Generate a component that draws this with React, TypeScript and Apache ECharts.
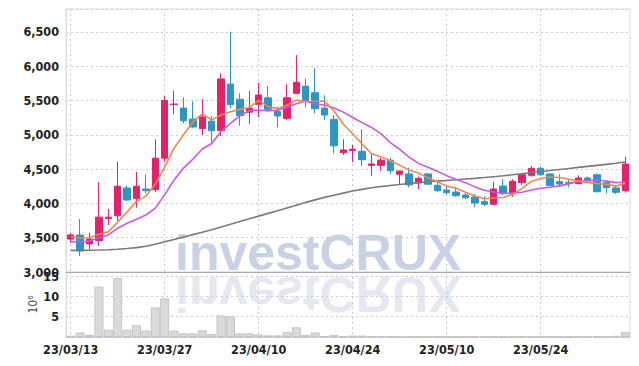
import React, { useEffect, useRef } from 'react';
import * as echarts from 'echarts';

const dates = [
  '23/03/13','23/03/14','23/03/15','23/03/16','23/03/17','23/03/20','23/03/21','23/03/22','23/03/23','23/03/24',
  '23/03/27','23/03/28','23/03/29','23/03/30','23/03/31','23/04/03','23/04/04','23/04/05','23/04/06','23/04/07',
  '23/04/10','23/04/11','23/04/12','23/04/13','23/04/14','23/04/17','23/04/18','23/04/19','23/04/20','23/04/21',
  '23/04/24','23/04/25','23/04/26','23/04/27','23/04/28','23/05/02','23/05/03','23/05/04','23/05/08','23/05/09',
  '23/05/10','23/05/11','23/05/12','23/05/15','23/05/16','23/05/17','23/05/18','23/05/19','23/05/22','23/05/23',
  '23/05/24','23/05/25','23/05/26','23/05/30','23/05/31','23/06/01','23/06/02','23/06/05','23/06/07','23/06/08',
];

const opens = [
  3480, 3539, 3410, 3456, 3780, 3820, 4225, 4070, 4210, 4200,
  4660, 5440, 5390, 5230, 5090, 5200, 5060, 5740, 5520, 5330,
  5445, 5540, 5340, 5240, 5605, 5710, 5615, 5390, 5225, 4740,
  4770, 4760, 4555, 4555, 4630, 4425, 4430, 4298, 4430, 4265,
  4196, 4166, 4123, 4094, 4025, 3987, 4254, 4142, 4303, 4410,
  4512, 4430, 4317, 4308, 4288, 4371, 4419, 4308, 4225, 4185,
];
const closes = [
  3540, 3306, 3480, 3800, 3800, 4250, 4050, 4250, 4185, 4660,
  5500, 5450, 5205, 5115, 5260, 5060, 5815, 5440, 5280, 5390,
  5580, 5372, 5275, 5540, 5765, 5485, 5380, 5290, 4840, 4780,
  4790, 4637, 4575, 4630, 4477, 4473, 4270, 4366, 4280, 4185,
  4157, 4112, 4083, 4006, 3987, 4210, 4142, 4322, 4419, 4512,
  4419, 4258, 4283, 4293, 4371, 4327, 4171, 4230, 4162, 4575,
];
const lows = [
  3427, 3233, 3331, 3379, 3685, 3744, 4035, 3938, 4148, 4167,
  4600, 5300, 5168, 5095, 4997, 4891, 4983, 5387, 5133, 5158,
  5256, 5337, 5110, 5216, 5605, 5400, 5314, 5216, 4729, 4706,
  4600, 4545, 4400, 4477, 4430, 4268, 4235, 4205, 4270, 4170,
  4123, 4098, 4064, 3943, 3962, 3977, 4123, 4098, 4268, 4390,
  4400, 4258, 4244, 4235, 4278, 4317, 4162, 4147, 4137, 4157,
];
const highs = [
  3573, 3773, 3573, 4308, 3918, 4608, 4258, 4458, 4425, 4935,
  5566, 5643, 5547, 5489, 5518, 5275, 5897, 6504, 5606, 5643,
  5760, 5712, 5410, 5737, 6164, 5820, 5970, 5576, 5290, 4935,
  4852, 5080, 4720, 4662, 4667, 4473, 4521, 4390, 4440, 4317,
  4254, 4244, 4171, 4140, 4108, 4317, 4351, 4351, 4439, 4545,
  4536, 4440, 4425, 4350, 4410, 4390, 4439, 4308, 4254, 4681,
];

// volume in millions (10^6)
const volumes = [
  0.3, 1.1, 0.5, 12.4, 1.8, 14.5, 1.8, 2.9, 1.6, 7.3,
  9.5, 1.6, 0.9, 0.9, 1.65, 0.7, 5.3, 5.1, 0.9, 0.9,
  0.6, 0.4, 0.4, 1.2, 2.4, 0.5, 1.1, 0.2, 0.5, 0.2,
  0.35, 0.35, 0.2, 0.15, 0.1, 0.15, 0.1, 0.1, 0.1, 0.1,
  0.1, 0.1, 0.1, 0.15, 0.1, 0.2, 0.1, 0.15, 0.1, 0.15,
  0.1, 0.1, 0.1, 0.1, 0.1, 0.1, 0.2, 0.1, 0.3, 1.2,
];

const ma5 = [
  3515, 3495, 3500, 3550, 3585, 3727, 3876, 4030, 4107, 4279,
  4529, 4809, 5000, 5186, 5306, 5218, 5291, 5338, 5371, 5397,
  5501, 5412, 5379, 5431, 5506, 5487, 5489, 5492, 5352, 5155,
  5016, 4867, 4724, 4682, 4622, 4558, 4485, 4443, 4373, 4315,
  4252, 4220, 4163, 4109, 4069, 4080, 4086, 4133, 4216, 4321,
  4363, 4386, 4378, 4353, 4325, 4306, 4289, 4278, 4252, 4293,
];
const ma10 = [
  3442, 3437, 3452, 3500, 3540, 3637, 3710, 3768, 3831, 3932,
  4128, 4343, 4515, 4647, 4793, 4874, 5050, 5169, 5279, 5352,
  5360, 5352, 5359, 5401, 5452, 5494, 5451, 5436, 5392, 5331,
  5252, 5178, 5108, 5017, 4888, 4787, 4676, 4584, 4528, 4468,
  4405, 4353, 4303, 4241, 4192, 4166, 4153, 4148, 4162, 4195,
  4221, 4236, 4256, 4285, 4323, 4335, 4338, 4328, 4303, 4309,
];
const ma60 = [
  3315, 3316, 3318, 3320, 3325, 3332, 3342, 3355, 3375, 3405,
  3440, 3475, 3510, 3545, 3580, 3615, 3655, 3695, 3735, 3775,
  3815, 3855, 3892, 3932, 3972, 4015, 4052, 4088, 4120, 4150,
  4180, 4205, 4228, 4246, 4262, 4277, 4291, 4303, 4315, 4325,
  4335, 4345, 4355, 4365, 4377, 4390, 4403, 4417, 4432, 4450,
  4465, 4480, 4495, 4510, 4525, 4540, 4555, 4570, 4585, 4605,
];

const FONT = "'DejaVu Sans Condensed', 'DejaVu Sans', sans-serif";
const WM_FONT = "bold 50px 'Liberation Sans', Arial, sans-serif";

export default function App() {
  const ref = useRef<HTMLDivElement>(null);
  useEffect(() => {
    if (!ref.current) return;
    const chart = echarts.init(ref.current, undefined, { renderer: 'svg' });
    const candleData = opens.map((o, i) => [o, closes[i], lows[i], highs[i]]);
    const dotted = { show: true, interval: 9, lineStyle: { color: '#c9ccd8', type: [2, 3] as any, width: 1 } };
    const labelStyle = { fontFamily: FONT, fontSize: 12.5, fontWeight: 'bold' as const, color: '#222' };
    chart.setOption({
      animation: false,
      backgroundColor: '#ffffff',
      graphic: [
        {
          type: 'text',
          x: 175,
          y: 278,
          z: -10,
          silent: true,
          style: {
            text: 'investCRUX',
            font: WM_FONT,
            fill: '#c9d1e5',
            textVerticalAlign: 'bottom',
            textAlign: 'left',
          },
        },
        {
          type: 'text',
          x: 175,
          y: 269,
          scaleY: -1,
          z: -10,
          silent: true,
          style: {
            text: 'investCRUX',
            font: WM_FONT,
            fill: '#e6e8f1',
            textVerticalAlign: 'bottom',
            textAlign: 'left',
          },
        },
      ],
      grid: [
        { left: 66, right: 9, top: 9, height: 263, show: true, borderColor: '#dddddd', borderWidth: 1 },
        { left: 66, right: 9, top: 272, height: 65, show: true, borderColor: '#dddddd', borderWidth: 1 },
      ],
      xAxis: [
        {
          type: 'category',
          gridIndex: 0,
          data: dates,
          boundaryGap: true,
          axisLabel: { show: false },
          axisTick: { show: false },
          axisLine: { show: true, lineStyle: { color: '#aaaaaa' } },
          splitLine: { ...dotted, alignWithLabel: true },
        },
        {
          type: 'category',
          gridIndex: 1,
          data: dates,
          boundaryGap: true,
          axisLabel: { interval: 9, ...labelStyle, margin: 6 },
          axisTick: { show: false, alignWithLabel: true },
          axisLine: { show: true, lineStyle: { color: '#cccccc' } },
          splitLine: { ...dotted, alignWithLabel: true },
        },
      ],
      yAxis: [
        {
          type: 'value',
          gridIndex: 0,
          min: 3000,
          max: 6835,
          interval: 500,
          axisLabel: {
            ...labelStyle,
            margin: 7,
            showMaxLabel: false,
            formatter: (v: number) => v.toLocaleString('en-US'),
          },
          axisLine: { show: true, lineStyle: { color: '#dddddd' } },
          axisTick: { show: false },
          splitLine: { show: true, lineStyle: { color: '#c9ccd8', type: [2, 3] as any } },
        },
        {
          type: 'value',
          gridIndex: 1,
          min: 0,
          max: 16,
          interval: 5,
          name: '10⁶',
          nameLocation: 'middle',
          nameRotate: 90,
          nameGap: 27,
          nameMoveOverlap: false,
          nameTextStyle: { fontFamily: FONT, fontSize: 12, color: '#555' },
          axisLabel: {
            ...labelStyle,
            margin: 7,
            showMinLabel: false,
            showMaxLabel: false,
          },
          axisLine: { show: true, lineStyle: { color: '#dddddd' } },
          axisTick: { show: false },
          splitLine: { show: true, lineStyle: { color: '#c9ccd8', type: [2, 3] as any } },
        },
      ],
      series: [
        {
          type: 'candlestick',
          name: 'price',
          xAxisIndex: 0,
          yAxisIndex: 0,
          data: candleData,
          barWidth: '72%',
          itemStyle: {
            color: '#e8206a',
            color0: '#2e95c8',
            borderColor: '#e8206a',
            borderColor0: '#2e95c8',
            borderWidth: 1,
          },
        },
        {
          type: 'line',
          name: 'MA60',
          data: ma60,
          xAxisIndex: 0,
          yAxisIndex: 0,
          symbol: 'none',
          lineStyle: { color: '#7a7a7a', width: 1.6 },
        },
        {
          type: 'line',
          name: 'MA10',
          data: ma10,
          xAxisIndex: 0,
          yAxisIndex: 0,
          symbol: 'none',
          lineStyle: { color: '#c957ea', width: 1.6 },
        },
        {
          type: 'line',
          name: 'MA5',
          data: ma5,
          xAxisIndex: 0,
          yAxisIndex: 0,
          symbol: 'none',
          lineStyle: { color: '#f0884f', width: 1.6 },
        },
        {
          type: 'bar',
          name: 'volume',
          xAxisIndex: 1,
          yAxisIndex: 1,
          data: volumes,
          barCategoryGap: '4%',
          itemStyle: { color: '#dadada', borderColor: '#c4c4c4', borderWidth: 1 },
        },
      ],
    });
    return () => chart.dispose();
  }, []);
  return <div ref={ref} style={{ width: 639, height: 366, position: 'absolute', left: 0, top: 0 }} />;
}
